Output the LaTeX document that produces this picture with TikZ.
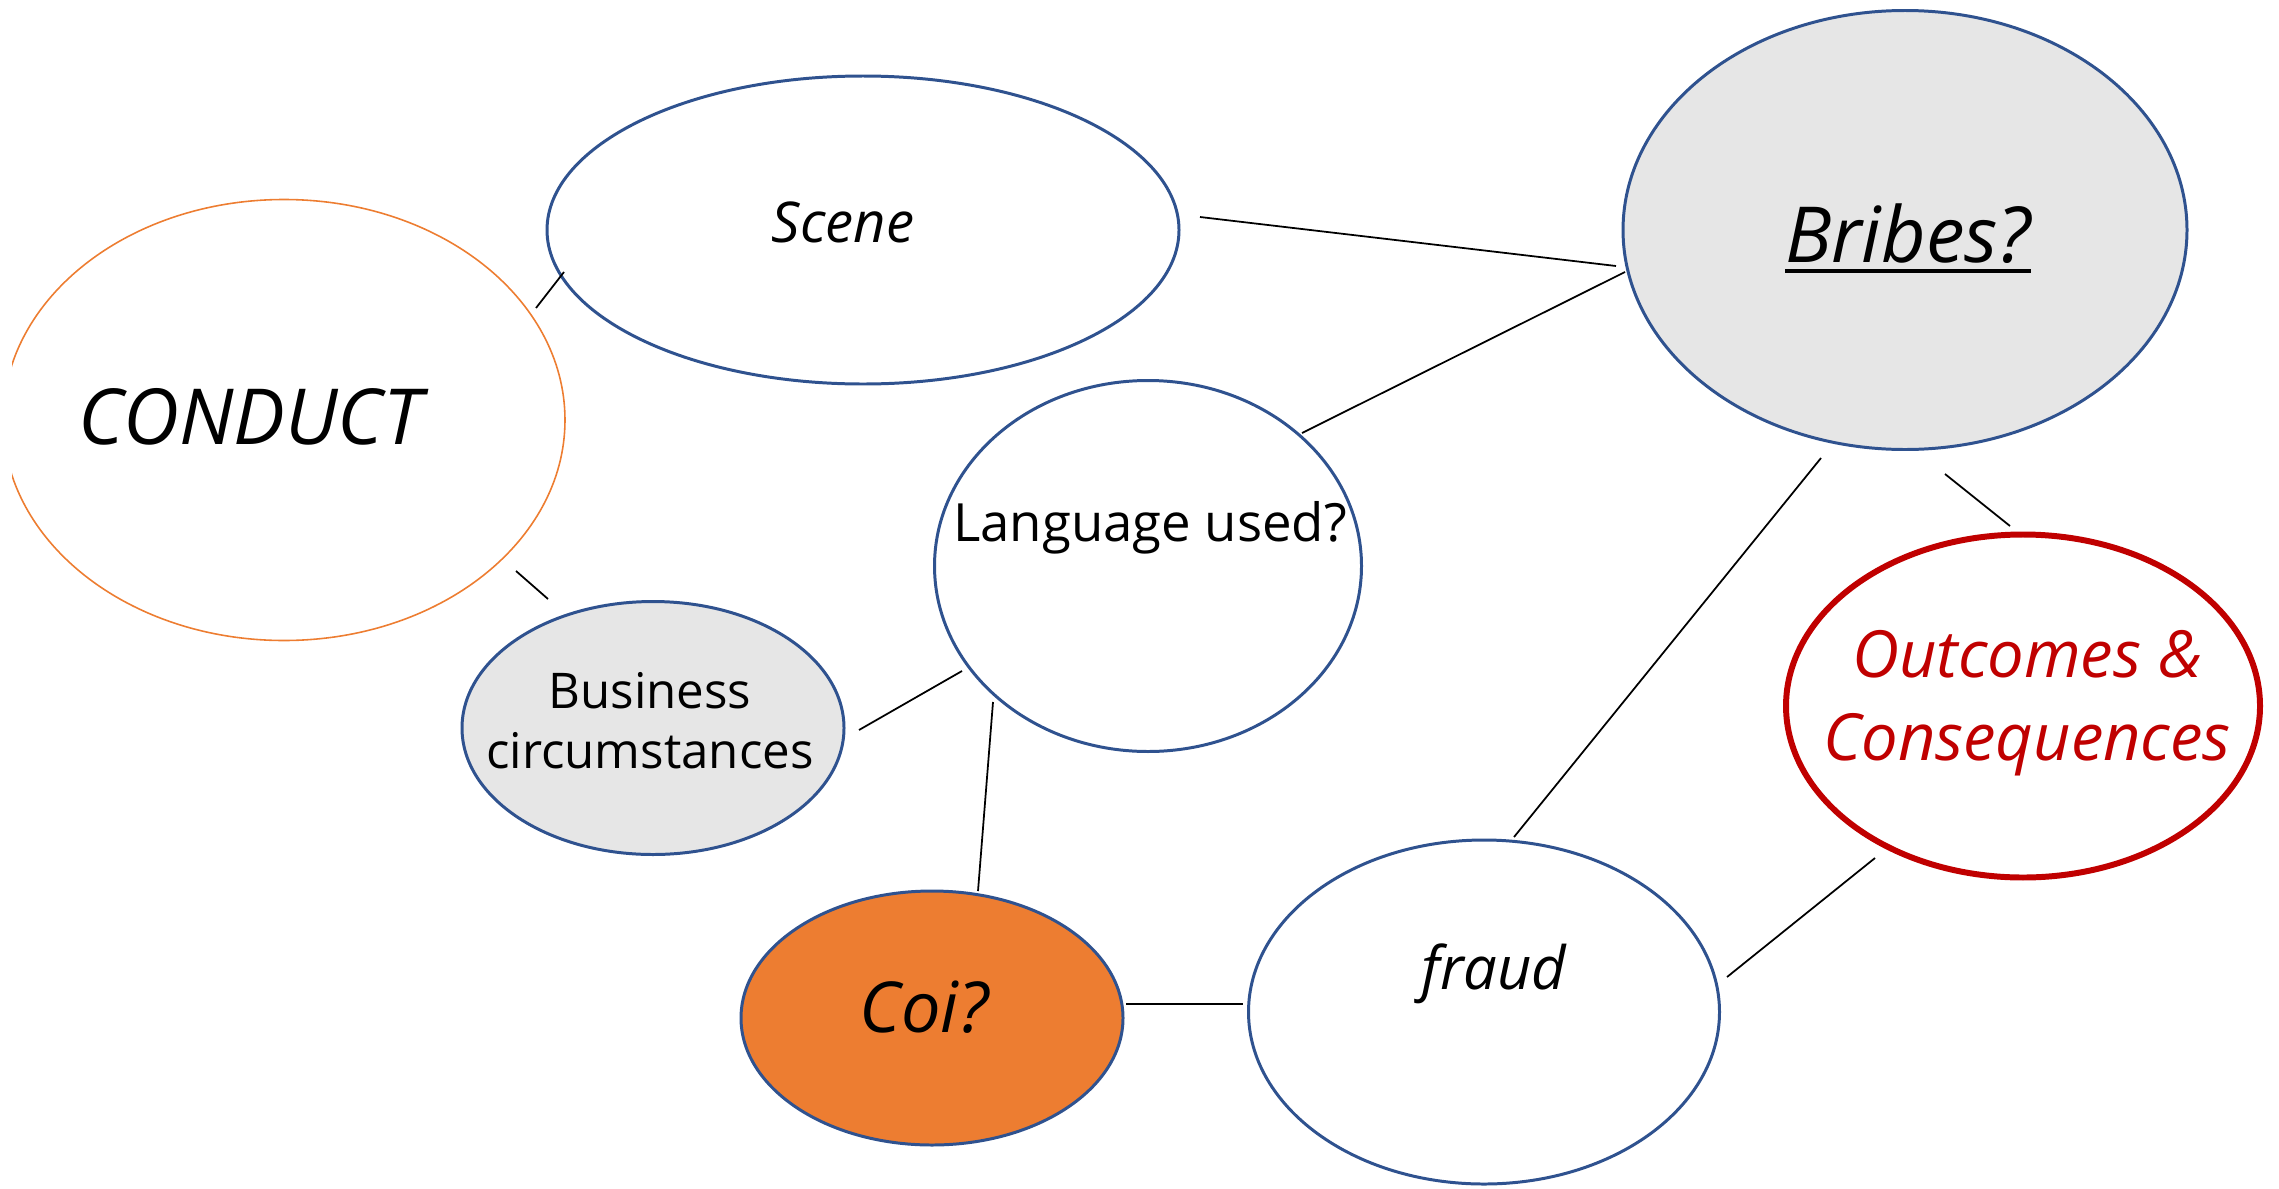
\documentclass[tikz,border=0pt]{standalone}
\usepackage{fontspec}
\setmainfont{Open Sans}
\usetikzlibrary{shapes.geometric}
\definecolor{bblue}{HTML}{2F528F}
\definecolor{bgray}{HTML}{E6E6E6}
\definecolor{borange}{HTML}{ED7D31}
\definecolor{bred}{HTML}{C00000}
\newcommand{\thickul}[1]{\vtop{\hbox{#1}\kern1.6pt\hrule height 1.1pt}}
\tikzset{
  bubble/.style={ellipse, draw=bblue, line width=0.85pt, fill=white, inner sep=0pt},
  link/.style={black, line width=0.5pt},
  hand/.style={inner sep=0pt, align=center},
}

\begin{document}
\begin{tikzpicture}[x=0.1mm,y=-0.1mm]
\useasboundingbox (0,0) rectangle (2279,1188);

% the ellipses
\begin{scope}
\clip (12,0) rectangle (2279,1188);
\node[bubble, draw=borange, line width=0.45pt, minimum width=56.2mm, minimum height=44.1mm] (conduct) at (284,420) {};
\end{scope}
\node[bubble, minimum width=63.2mm, minimum height=30.8mm] (scene) at (863,230) {};
\node[bubble, fill=bgray, minimum width=56.4mm, minimum height=43.9mm] (bribes) at (1905,230) {};
\node[bubble, minimum width=42.7mm, minimum height=37.1mm] (lang) at (1148,566) {};
\node[bubble, fill=bgray, minimum width=38.2mm, minimum height=25.3mm] (business) at (653,728) {};
\node[bubble, draw=bred, line width=1.7pt, minimum width=47.4mm, minimum height=34.3mm] (outcomes) at (2023,706) {};
\node[bubble, fill=borange, minimum width=38.2mm, minimum height=25.4mm] (coi) at (932,1018) {};
\node[bubble, minimum width=47.1mm, minimum height=34.4mm] (fraud) at (1484,1012) {};

% the texts
\node[hand, font={\fontsize{22pt}{26pt}\selectfont\itshape}] (conduct-t) at (250,417) {CONDUCT};
\node[hand, font={\fontsize{16pt}{19pt}\selectfont\itshape}] (scene-t) at (843,222) {Scene};
\node[hand, font={\fontsize{22pt}{26pt}\selectfont\itshape}] (bribes-t) at (1908,238) {\thickul{Bribes?}};
\node[hand, font={\fontsize{15pt}{18pt}\selectfont}] (lang-t) at (1150,528) {Language used?};
\node[hand, font={\fontsize{14pt}{17pt}\selectfont}] (business-t) at (650,721) {Business\\circumstances};
\node[hand, text=bred, font={\fontsize{18.5pt}{23.6pt}\selectfont\itshape}] (outcomes-t) at (2027,703) {Outcomes \&\\Consequences};
\node[hand, font={\fontsize{20pt}{24pt}\selectfont\itshape}] (coi-t) at (924,1007) {Coi?};
\node[hand, font={\fontsize{17pt}{20pt}\selectfont\itshape}] (fraud-t) at (1494,974) {fraud};

% end points of the links
\coordinate (c1) at (536,308);   \coordinate (s1) at (564,272);
\coordinate (c2) at (516,571);   \coordinate (bu1) at (548,599);
\coordinate (s2) at (1200,217);  \coordinate (br1) at (1616,266);
\coordinate (l1) at (1302,433);  \coordinate (br2) at (1625,272);
\coordinate (bu2) at (859,730);  \coordinate (l2) at (962,671);
\coordinate (l3) at (993,702);   \coordinate (co1) at (978,891);
\coordinate (co2) at (1126,1004);\coordinate (f1) at (1243,1004);
\coordinate (f2) at (1514,837);  \coordinate (br3) at (1821,458);
\coordinate (br4) at (1945,474); \coordinate (o1) at (2010,526);
\coordinate (f3) at (1727,977);  \coordinate (o2) at (1875,858);

\draw[link] (c1) -- (s1);
\draw[link] (c2) -- (bu1);
\draw[link] (s2) -- (br1);
\draw[link] (l1) -- (br2);
\draw[link] (bu2) -- (l2);
\draw[link] (l3) -- (co1);
\draw[link] (co2) -- (f1);
\draw[link] (f2) -- (br3);
\draw[link] (br4) -- (o1);
\draw[link] (f3) -- (o2);

\end{tikzpicture}
\end{document}
